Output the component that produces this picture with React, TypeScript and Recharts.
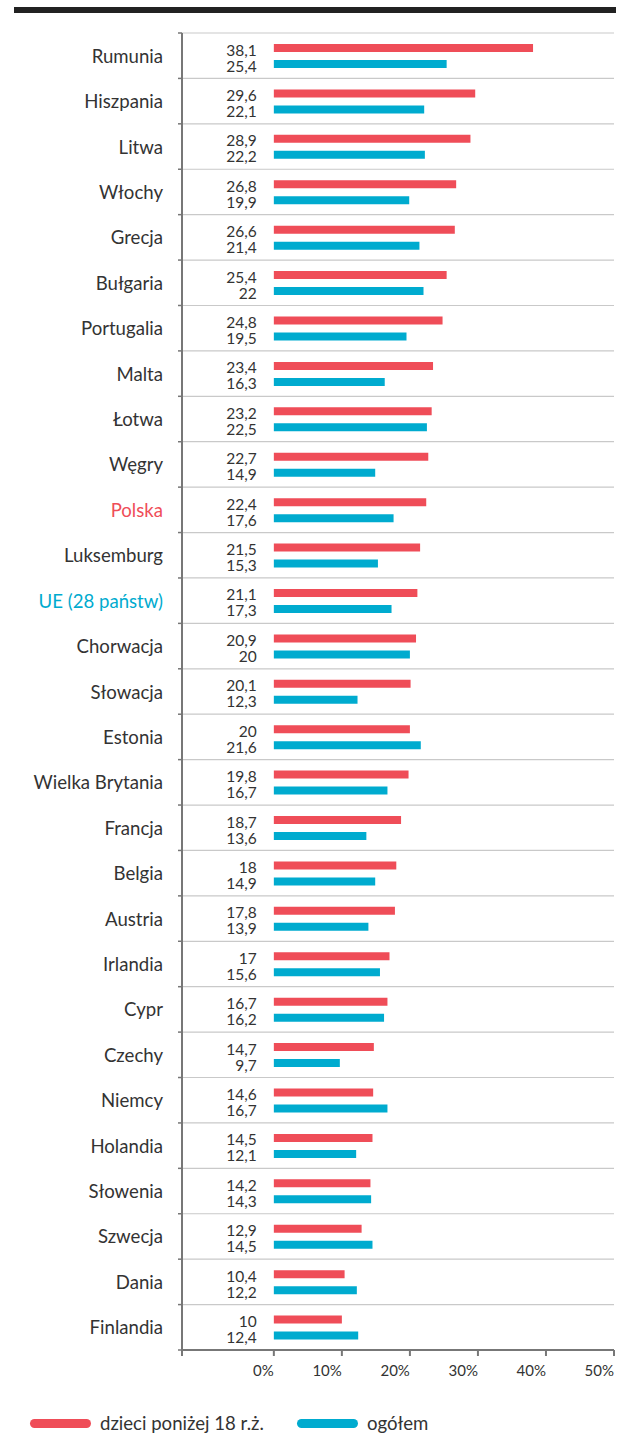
import React from 'react';
import { BarChart, Bar, XAxis, YAxis, CartesianGrid, LabelList } from 'recharts';

const countries = [
  'Rumunia', 'Hiszpania', 'Litwa', 'Włochy', 'Grecja', 'Bułgaria', 'Portugalia', 'Malta',
  'Łotwa', 'Węgry', 'Polska', 'Luksemburg', 'UE (28 państw)', 'Chorwacja', 'Słowacja',
  'Estonia', 'Wielka Brytania', 'Francja', 'Belgia', 'Austria', 'Irlandia', 'Cypr',
  'Czechy', 'Niemcy', 'Holandia', 'Słowenia', 'Szwecja', 'Dania', 'Finlandia',
];
const children = [
  38.1, 29.6, 28.9, 26.8, 26.6, 25.4, 24.8, 23.4, 23.2, 22.7, 22.4, 21.5, 21.1, 20.9, 20.1,
  20, 19.8, 18.7, 18, 17.8, 17, 16.7, 14.7, 14.6, 14.5, 14.2, 12.9, 10.4, 10,
];
const total = [
  25.4, 22.1, 22.2, 19.9, 21.4, 22, 19.5, 16.3, 22.5, 14.9, 17.6, 15.3, 17.3, 20, 12.3,
  21.6, 16.7, 13.6, 14.9, 13.9, 15.6, 16.2, 9.7, 16.7, 12.1, 14.3, 14.5, 12.2, 12.4,
];
const xTicks = [-13.5, 0, 10, 20, 30, 40, 50];
const seriesNames = ['dzieci poniżej 18 r.ż.', 'ogółem'];

const RED = '#ef4d58';
const BLUE = '#00abcf';
const TEXT = '#333333';
const FONT = 'Lato, "Open Sans", sans-serif';

const CHART_W = 620;
const CHART_H = 1395;
const MARGIN = { top: 33, right: 6, left: 0, bottom: 5 };
const X_AXIS_H = 40;
const ROW_H = (CHART_H - MARGIN.top - MARGIN.bottom - X_AXIS_H) / countries.length;

// row = middle of each category band on the boundary axis
const data = countries.map((name, i) => ({ name, row: i + 0.5, children: children[i], total: total[i] }));
const boundaries = Array.from({ length: countries.length + 1 }, (_, i) => i);

const labelColor = (name: string) => {
  if (name === 'Polska') return RED;
  if (name.startsWith('UE')) return BLUE;
  return TEXT;
};

// labels sit halfway between two boundary ticks
const RowTick = ({ x, y, payload }: any) => {
  const name = countries[payload.value];
  if (!name) return null;
  return (
    <text x={x - 13} y={y + ROW_H / 2} textAnchor="end" dominantBaseline="central"
      fontSize={18.6} fontFamily={FONT} fill={labelColor(name)}>
      {name}
    </text>
  );
};

const PctTick = ({ x, y, payload }: any) => {
  if (payload.value < 0) return null;
  return (
    <text x={x} y={y + 12} textAnchor="end" dominantBaseline="central"
      fontSize={15} fontFamily={FONT} fill={TEXT}>
      {payload.value}%
    </text>
  );
};

const ValueLabel = ({ x, y, height, value }: any) => (
  <text x={x - 17} y={y + height / 2 + 1.5} textAnchor="end" dominantBaseline="central"
    fontSize={15.5} fontFamily={FONT} fill={TEXT}>
    {String(value).replace('.', ',')}
  </text>
);

const LegendItem = ({ color, label, left }: { color: string; label: string; left: number }) => (
  <div style={{ position: 'absolute', left, top: 1410, height: 26, display: 'flex', alignItems: 'center' }}>
    <div style={{ width: 61, height: 9, borderRadius: 5, background: color, marginRight: 9 }} />
    <span style={{ fontFamily: FONT, fontSize: 18.6, color: TEXT }}>{label}</span>
  </div>
);

export default function App() {
  return (
    <div style={{ position: 'absolute', left: 0, top: 0, width: 620, height: 1435, background: '#fff' }}>
      <div style={{ position: 'absolute', left: 14, top: 7, width: 602, height: 6, background: '#222' }} />
      <BarChart width={CHART_W} height={CHART_H} data={data} layout="vertical" margin={MARGIN} barGap={8}>
        <CartesianGrid yAxisId="num" vertical={false} stroke="#c9c9c9" strokeWidth={1.2} />
        <XAxis type="number" domain={[-13.5, 50]} ticks={xTicks} height={X_AXIS_H}
          allowDataOverflow interval={0} tick={<PctTick />} tickSize={6}
          axisLine={{ stroke: '#777', strokeWidth: 2 }} tickLine={{ stroke: '#777', strokeWidth: 2 }} />
        <YAxis yAxisId="num" type="number" dataKey="row" domain={[0, countries.length]} ticks={boundaries}
          allowDataOverflow interval={0} width={182} tick={<RowTick />} tickSize={4}
          axisLine={{ stroke: '#777', strokeWidth: 2 }} tickLine={{ stroke: '#777', strokeWidth: 1.5 }} />
        <YAxis yAxisId="cat" type="category" dataKey="name" width={0} hide />
        <Bar yAxisId="cat" dataKey="children" name={seriesNames[0]} fill={RED} barSize={8} isAnimationActive={false}>
          <LabelList dataKey="children" content={<ValueLabel />} />
        </Bar>
        <Bar yAxisId="cat" dataKey="total" name={seriesNames[1]} fill={BLUE} barSize={8} isAnimationActive={false}>
          <LabelList dataKey="total" content={<ValueLabel />} />
        </Bar>
      </BarChart>
      <LegendItem color={RED} label={seriesNames[0]} left={30} />
      <LegendItem color={BLUE} label={seriesNames[1]} left={297} />
    </div>
  );
}
